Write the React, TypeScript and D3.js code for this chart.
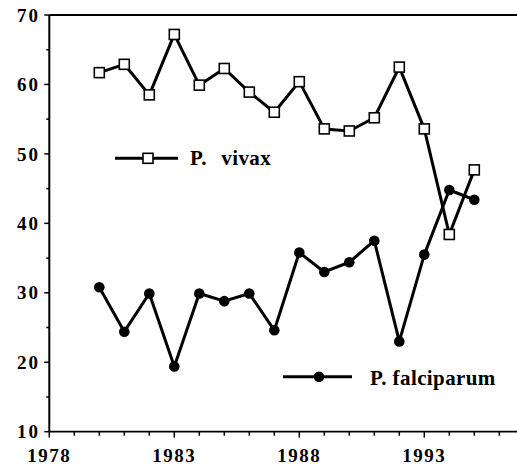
import React, { useRef, useEffect } from "react";
import * as d3 from "d3";

const years = [1980, 1981, 1982, 1983, 1984, 1985, 1986, 1987, 1988, 1989, 1990, 1991, 1992, 1993, 1994, 1995];
const vivax = [61.7, 62.9, 58.5, 67.2, 59.9, 62.3, 58.9, 56.0, 60.4, 53.6, 53.3, 55.2, 62.5, 53.6, 38.4, 47.7];
const falciparum = [30.8, 24.4, 29.9, 19.4, 29.9, 28.8, 29.9, 24.6, 35.8, 33.0, 34.4, 37.5, 23.0, 35.5, 44.8, 43.4];
const xTicks = [1978, 1983, 1988, 1993];
const yTicks = [10, 20, 30, 40, 50, 60, 70];

const App = () => {
  const svgRef = useRef<SVGSVGElement>(null);

  useEffect(() => {
    const width = 517;
    const height = 465;
    const font = "Liberation Serif, DejaVu Serif, serif";

    const svg = d3.select(svgRef.current).attr("width", width).attr("height", height).html("");

    const x = d3.scaleLinear().domain([1978, 1983]).range([49.3, 174.3]);
    const y = d3.scaleLinear().domain([10, 70]).range([431.7, 15]);
    const xEnd = x.invert(width);

    // axes
    svg.append("line")
      .attr("x1", x(1978)).attr("x2", width)
      .attr("y1", y(10)).attr("y2", y(10))
      .attr("stroke", "#000").attr("stroke-width", 1.8);
    svg.append("line")
      .attr("x1", x(1978)).attr("x2", width)
      .attr("y1", y(70)).attr("y2", y(70))
      .attr("stroke", "#000").attr("stroke-width", 2);
    svg.append("line")
      .attr("x1", x(1978)).attr("x2", x(1978))
      .attr("y1", y(70)).attr("y2", y(10))
      .attr("stroke", "#000").attr("stroke-width", 2);

    // x ticks every year
    d3.range(1978, Math.floor(xEnd) + 1).forEach((yr) => {
      const major = xTicks.includes(yr);
      svg.append("line")
        .attr("x1", x(yr)).attr("x2", x(yr))
        .attr("y1", y(10)).attr("y2", y(10) + (major ? 6 : 4))
        .attr("stroke", "#000").attr("stroke-width", 1.5);
    });
    xTicks.forEach((yr) => {
      svg.append("text")
        .attr("x", x(yr)).attr("y", 462)
        .attr("text-anchor", "middle")
        .attr("font-family", font).attr("font-weight", "bold")
        .attr("font-size", 19).attr("letter-spacing", 1.5)
        .text(yr);
    });

    // y ticks every 5
    d3.range(10, 71, 5).forEach((v) => {
      const major = yTicks.includes(v);
      svg.append("line")
        .attr("x1", x(1978) - (major ? 5 : 3)).attr("x2", x(1978))
        .attr("y1", y(v)).attr("y2", y(v))
        .attr("stroke", "#000").attr("stroke-width", 1.5);
    });
    yTicks.forEach((v) => {
      svg.append("text")
        .attr("x", 40).attr("y", y(v)).attr("dy", "0.35em")
        .attr("text-anchor", "end")
        .attr("font-family", font).attr("font-weight", "bold")
        .attr("font-size", 19).attr("letter-spacing", 2)
        .text(v);
    });

    const line = d3.line<number>().x((_, i) => x(years[i])).y((d) => y(d));

    // falciparum
    svg.append("path").datum(falciparum)
      .attr("d", line).attr("fill", "none")
      .attr("stroke", "#000").attr("stroke-width", 3).attr("stroke-linejoin", "round");
    svg.selectAll(".dot").data(falciparum).enter().append("circle")
      .attr("cx", (_, i) => x(years[i])).attr("cy", (d) => y(d))
      .attr("r", 5.3).attr("fill", "#000");

    // vivax
    svg.append("path").datum(vivax)
      .attr("d", line).attr("fill", "none")
      .attr("stroke", "#000").attr("stroke-width", 3).attr("stroke-linejoin", "round");
    svg.selectAll(".sq").data(vivax).enter().append("rect")
      .attr("x", (_, i) => x(years[i]) - 5).attr("y", (d) => y(d) - 5)
      .attr("width", 10).attr("height", 10)
      .attr("fill", "#fff").attr("stroke", "#000").attr("stroke-width", 1.6);

    // legend: vivax
    svg.append("line")
      .attr("x1", 115).attr("x2", 178).attr("y1", 158.3).attr("y2", 158.3)
      .attr("stroke", "#000").attr("stroke-width", 3);
    svg.append("rect")
      .attr("x", 143).attr("y", 153.3).attr("width", 10).attr("height", 10)
      .attr("fill", "#fff").attr("stroke", "#000").attr("stroke-width", 1.6);
    svg.append("text")
      .attr("x", 190).attr("y", 164.5)
      .attr("font-family", font).attr("font-weight", "bold").attr("font-size", 21)
      .attr("letter-spacing", 0.4).attr("word-spacing", 1.5)
      .style("white-space", "pre")
      .text("P.  vivax");

    // legend: falciparum
    svg.append("line")
      .attr("x1", 283).attr("x2", 352).attr("y1", 376.7).attr("y2", 376.7)
      .attr("stroke", "#000").attr("stroke-width", 3);
    svg.append("circle")
      .attr("cx", 319).attr("cy", 376.7).attr("r", 5.3).attr("fill", "#000");
    svg.append("text")
      .attr("x", 370).attr("y", 384.5)
      .attr("font-family", font).attr("font-weight", "bold").attr("font-size", 21)
      .attr("letter-spacing", 0.4)
      .text("P. falciparum");
  }, []);

  return <svg ref={svgRef} style={{ position: "absolute", left: 0, top: 0, background: "#fff" }} />;
};

export default App;
